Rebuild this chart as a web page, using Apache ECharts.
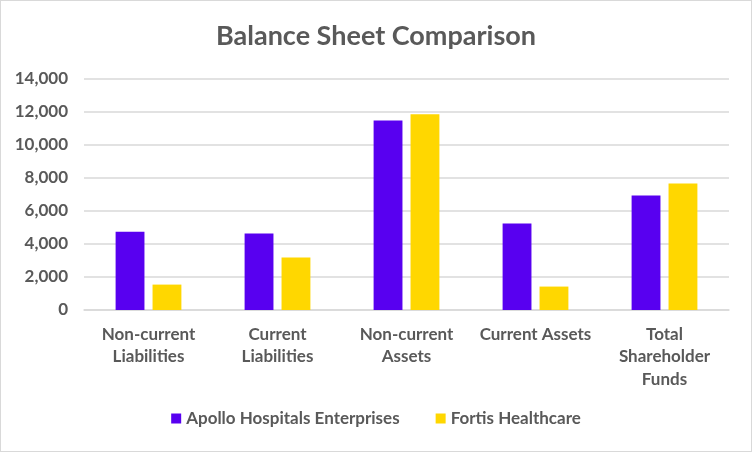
<!DOCTYPE html>
<html><head><meta charset="utf-8">
<script src="https://cdn.jsdelivr.net/npm/echarts@6/dist/echarts.min.js"></script>
<style>html,body{margin:0;padding:0;background:#fff}#c{width:750px;height:450px;border:1px solid #d9d9d9}</style>
</head><body><div id="c"></div>
<script>
const categories = ['Non-current\nLiabilities', 'Current\nLiabilities', 'Non-current\nAssets', 'Current Assets', 'Total\nShareholder\nFunds'];
const apollo = [4750, 4630, 11490, 5240, 6940];
const fortis = [1540, 3180, 11860, 1420, 7670];
const yTicks = { min: 0, max: 14000, interval: 2000 };
const font = 'Lato, "Open Sans", sans-serif';
const chart = echarts.init(document.getElementById('c'));
chart.setOption({
  animation: false,
  title: { text: 'Balance Sheet Comparison', left: 'center', top: 17,
    textStyle: { fontFamily: font, fontSize: 27, fontWeight: 'bold', color: '#595959' } },
  legend: { bottom: 19, left: 'center', itemWidth: 10, itemHeight: 10, itemGap: 36, icon: 'rect',
    textStyle: { fontFamily: font, fontSize: 17, fontWeight: 'bold', color: '#595959' } },
  grid: { left: 83, right: 22, top: 78, bottom: 141, containLabel: false },
  xAxis: { type: 'category', data: categories,
    axisLine: { lineStyle: { color: '#d9d9d9', width: 1.5 } }, axisTick: { show: false },
    axisLabel: { interval: 0, fontFamily: font, fontSize: 17, fontWeight: 'bold', color: '#595959', lineHeight: 22.5, margin: 13 } },
  yAxis: { type: 'value', min: yTicks.min, max: yTicks.max, interval: yTicks.interval,
    axisLine: { show: false }, axisTick: { show: false },
    splitLine: { lineStyle: { color: '#d9d9d9', width: 1.5 } },
    axisLabel: { fontFamily: font, fontSize: 17, fontWeight: 'bold', color: '#595959', margin: 16,
      formatter: v => v.toLocaleString('en-US') } },
  series: [
    { name: 'Apollo Hospitals Enterprises', type: 'bar', data: apollo, itemStyle: { color: '#5800F0' }, barGap: '28%', barCategoryGap: '49%' },
    { name: 'Fortis Healthcare', type: 'bar', data: fortis, itemStyle: { color: '#FFD700' } }
  ]
});
</script></body></html>
